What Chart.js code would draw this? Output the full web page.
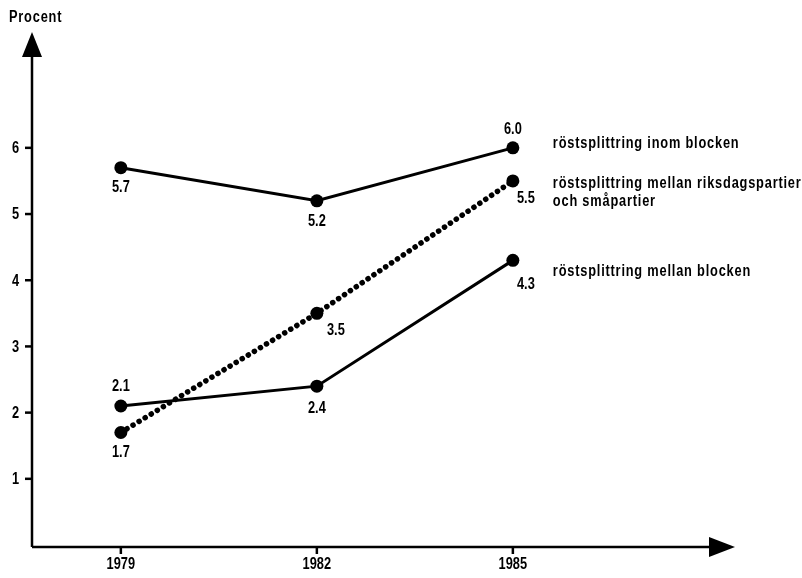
<!DOCTYPE html>
<html>
<head>
<meta charset="utf-8">
<script src="https://cdn.jsdelivr.net/npm/chart.js@4/dist/chart.umd.min.js"></script>
<style>
  html, body { margin: 0; padding: 0; background: #fff; }
  #wrap { width: 802px; height: 578px; }
</style>
</head>
<body>
<div id="wrap"><canvas id="chart" width="802" height="578"></canvas></div>
<script>
// data
var years = [1979, 1982, 1985];
var inomBlocken = [5.7, 5.2, 6.0];
var riksdagSma = [1.7, 3.5, 5.5];
var mellanBlocken = [2.1, 2.4, 4.3];
var yTicks = [1, 2, 3, 4, 5, 6];
var seriesNames = [
  ['röstsplittring inom blocken'],
  ['röstsplittring mellan riksdagspartier', 'och småpartier'],
  ['röstsplittring mellan blocken']
];

var FONT = 'bold 16px "Liberation Sans", Arial, sans-serif';

function pts(vals) {
  return vals.map(function (v, i) { return { x: years[i], y: v }; });
}

// label offsets per point [dx, dy] (px), and where the series names sit (x px from last point, y in axis units)
var labelOffsets = [
  [[0, 20], [0, 21], [0, -18]],
  [[0, 20], [19, 17], [13, 18]],
  [[0, -19], [0, 22], [13, 24]]
];
var namePos = [[40, 6.07], [40, 5.46], [40, 4.13]];

// condensed text: squeeze horizontally, optional extra letter spacing
function txt(ctx, s, x, y, align, spacing) {
  ctx.save();
  ctx.font = FONT;
  ctx.letterSpacing = (spacing || 0) + 'px';
  ctx.textBaseline = 'middle';
  ctx.textAlign = 'left';
  var sx = 0.8;
  var w = ctx.measureText(s).width * sx;
  var left = align === 'center' ? x - w / 2 : align === 'right' ? x - w : x;
  ctx.translate(left, y);
  ctx.scale(sx, 1);
  ctx.fillText(s, 0, 0);
  ctx.restore();
}

var overlay = {
  id: 'overlay',
  afterDraw: function (chart) {
    var ctx = chart.ctx;
    var xs = chart.scales.x, ys = chart.scales.y;
    var x0 = xs.left, y0 = ys.bottom;
    ctx.save();
    ctx.strokeStyle = '#000';
    ctx.fillStyle = '#000';
    ctx.lineWidth = 2.5;
    // axes
    ctx.beginPath();
    ctx.moveTo(x0, y0);
    ctx.lineTo(x0, ys.top + 20);
    ctx.moveTo(x0, y0);
    ctx.lineTo(xs.right - 22, y0);
    ctx.stroke();
    // arrow heads
    ctx.beginPath();
    ctx.moveTo(x0, ys.top);
    ctx.lineTo(x0 - 10, ys.top + 25);
    ctx.lineTo(x0 + 10, ys.top + 25);
    ctx.closePath();
    ctx.fill();
    ctx.beginPath();
    ctx.moveTo(xs.right, y0);
    ctx.lineTo(xs.right - 26, y0 - 10);
    ctx.lineTo(xs.right - 26, y0 + 10);
    ctx.closePath();
    ctx.fill();

    // y ticks
    yTicks.forEach(function (t) {
      var py = ys.getPixelForValue(t);
      ctx.beginPath();
      ctx.moveTo(x0 - 7, py);
      ctx.lineTo(x0, py);
      ctx.stroke();
      txt(ctx, String(t), x0 - 13, py + 1, 'right');
    });
    // x ticks
    years.forEach(function (yr) {
      var px = xs.getPixelForValue(yr);
      ctx.beginPath();
      ctx.moveTo(px, y0);
      ctx.lineTo(px, y0 + 7);
      ctx.stroke();
      txt(ctx, String(yr), px, y0 + 18, 'center');
    });
    txt(ctx, 'Procent', 9, 18, 'left', 1);

    // value labels and series names
    chart.data.datasets.forEach(function (ds, di) {
      var meta = chart.getDatasetMeta(di);
      meta.data.forEach(function (el, i) {
        var off = labelOffsets[di][i];
        txt(ctx, ds.data[i].y.toFixed(1), el.x + off[0], el.y + off[1], 'center');
      });
      var last = meta.data[meta.data.length - 1];
      var ny = ys.getPixelForValue(namePos[di][1]);
      seriesNames[di].forEach(function (line, li) {
        txt(ctx, line, last.x + namePos[di][0], ny + li * 18, 'left', 1);
      });
    });
    ctx.restore();
  }
};

new Chart(document.getElementById('chart').getContext('2d'), {
  type: 'line',
  data: {
    datasets: [
      {
        label: seriesNames[0][0],
        data: pts(inomBlocken),
        borderColor: '#000', backgroundColor: '#000',
        borderWidth: 3, pointRadius: 6.5, pointBorderWidth: 0, pointHoverRadius: 6.5
      },
      {
        label: seriesNames[1].join(' '),
        data: pts(riksdagSma),
        borderColor: '#000', backgroundColor: '#000',
        borderWidth: 5.5, borderDash: [0.1, 7], borderCapStyle: 'round',
        pointRadius: 6.5, pointBorderWidth: 0, pointHoverRadius: 6.5
      },
      {
        label: seriesNames[2][0],
        data: pts(mellanBlocken),
        borderColor: '#000', backgroundColor: '#000',
        borderWidth: 3, pointRadius: 6.5, pointBorderWidth: 0, pointHoverRadius: 6.5
      }
    ]
  },
  options: {
    responsive: false,
    animation: false,
    layout: { padding: { left: 32, right: 802 - 735, top: 32, bottom: 578 - 547 } },
    plugins: { legend: { display: false }, tooltip: { enabled: false } },
    scales: {
      x: { type: 'linear', min: 1977.64, max: 1988.4, display: false },
      y: { type: 'linear', min: -0.03, max: 7.75, display: false }
    }
  },
  plugins: [overlay]
});
</script>
</body>
</html>
